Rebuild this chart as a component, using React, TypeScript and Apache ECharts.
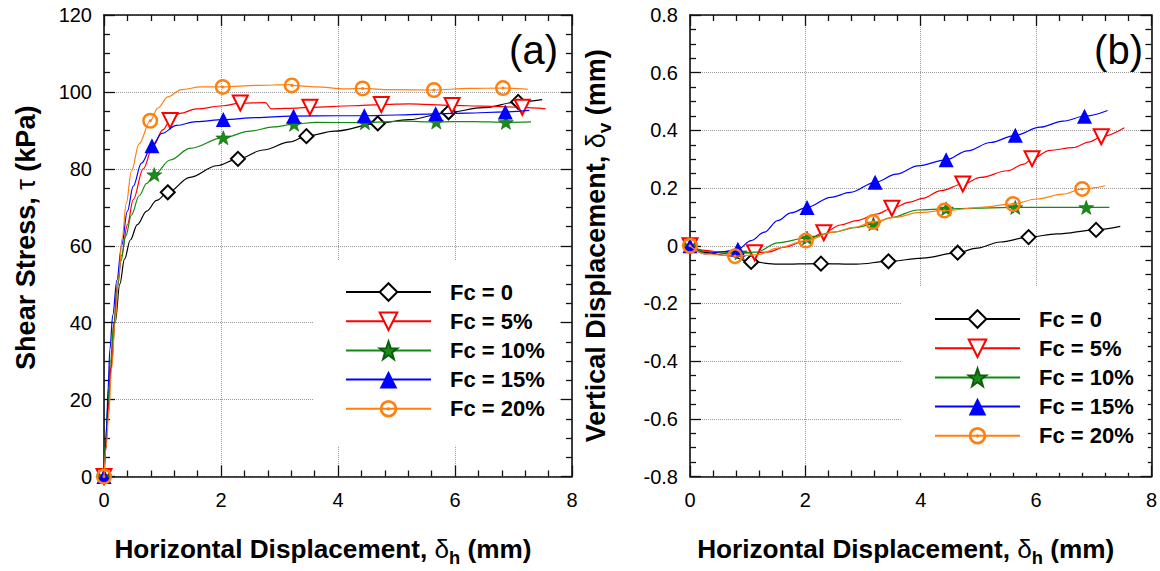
import React, { useEffect, useRef } from 'react';
import * as echarts from 'echarts';

type Pt = [number, number];

// ---------- labels ----------
const seriesNames = ['Fc = 0', 'Fc = 5%', 'Fc = 10%', 'Fc = 15%', 'Fc = 20%'];
const xAxisTitle = '{t|Horizontal Displacement, }{g|δ}{s|h}{t| (mm)}';
const yTitleA = '{t|Shear Stress, }{g|τ}{t| (kPa)}';
const yTitleB = '{t|Vertical Displacement, }{g|δ}{s|v}{t| (mm)}';
const panelA = '(a)';
const panelB = '(b)';

// ---------- axis ranges ----------
const xRange = { min: 0, max: 8, interval: 2 };
const yRangeA = { min: 0, max: 120, interval: 20 };
const yRangeB = { min: -0.8, max: 0.8, interval: 0.2 };

// ---------- (a) shear stress vs horizontal displacement ----------
const shearFc0: Pt[] = [[0.03, 8], [0.07, 18], [0.12, 28], [0.19, 40], [0.27, 50], [0.35, 56.5], [0.45, 61.5], [0.57, 65.5], [0.73, 69], [0.9, 71.8], [1.47, 77.8], [1.93, 80.8], [2.72, 84.9], [3.18, 87.0], [3.94, 89.8], [5.21, 92.8], [6.48, 95.9], [7.49, 98.0]];
const shearFc0Marks: Pt[] = [[0, 0], [1.09, 73.9], [2.29, 82.6], [3.46, 88.5], [4.68, 91.8], [5.89, 94.7], [7.08, 97.4]];

const shearFc5: Pt[] = [[0.03, 7], [0.07, 17], [0.12, 29], [0.17, 40], [0.23, 50], [0.3, 57.5], [0.4, 65.5], [0.5, 72], [0.67, 80], [0.84, 86], [1.01, 90.2], [1.3, 94.4], [1.58, 95.6], [2.04, 96.4], [2.76, 97.2], [2.86, 95.6], [3.3, 95.8], [4.25, 96.4], [5.21, 96.9], [6.48, 96.3], [7.55, 95.6]];
const shearFc5Marks: Pt[] = [[0, 0], [1.13, 92.6], [2.33, 97.1], [3.52, 96.0], [4.74, 96.7], [5.95, 96.5], [7.15, 96.0]];

const shearFc10: Pt[] = [[0.03, 9], [0.06, 18], [0.11, 30], [0.17, 40], [0.23, 49], [0.29, 56], [0.37, 62.5], [0.47, 68], [0.6, 73], [0.73, 76.2], [1.13, 82.3], [1.47, 85.3], [2.5, 89.8], [2.9, 90.9], [3.62, 92.1], [5.1, 92.4], [6.3, 92.3], [7.3, 92.2]];
const shearFc10Marks: Pt[] = [[0, 0], [0.86, 78.5], [2.04, 88.1], [3.25, 91.6], [4.46, 92.0], [5.68, 92.2], [6.87, 92.1]];

const shearFc15: Pt[] = [[0.02, 5], [0.045, 13], [0.07, 23], [0.1, 33], [0.15, 42], [0.22, 51], [0.3, 60], [0.4, 69], [0.5, 75.5], [0.64, 81.5], [0.99, 89.2], [1.24, 91.3], [1.58, 92.3], [2.61, 93.3], [3.18, 93.7], [4.0, 93.8], [5.0, 94.0], [6.2, 94.5], [7.27, 95.2]];
const shearFc15Marks: Pt[] = [[0, 0], [0.82, 86.0], [2.04, 92.8], [3.24, 93.7], [4.45, 93.8], [5.67, 94.3], [6.86, 94.8]];

const shearFc20: Pt[] = [[0.04, 8], [0.08, 16], [0.13, 28], [0.19, 40], [0.25, 52], [0.31, 62], [0.38, 71], [0.47, 79.5], [0.6, 86.5], [0.92, 95.8], [1.09, 98.7], [1.32, 100.6], [1.66, 101.3], [2.61, 101.7], [3.18, 101.9], [3.62, 101.3], [4.13, 100.8], [4.89, 100.6], [6.22, 100.9], [7.25, 100.7]];
const shearFc20Marks: Pt[] = [[0, 0], [0.79, 92.5], [2.03, 101.3], [3.21, 101.7], [4.42, 100.9], [5.64, 100.5], [6.82, 101.0]];

// ---------- (b) vertical vs horizontal displacement ----------
const vertFc0: Pt[] = [[0.26, -0.023], [0.66, -0.034], [1.52, -0.064], [2.89, -0.064], [4.03, -0.043], [4.98, -0.008], [5.38, 0.013], [6.36, 0.041], [7.46, 0.067]];
const vertFc0Marks: Pt[] = [[0, 0], [1.06, -0.056], [2.27, -0.062], [3.44, -0.054], [4.64, -0.024], [5.87, 0.03], [7.04, 0.055]];

const vertFc5: Pt[] = [[0.26, -0.016], [0.66, -0.028], [1.35, -0.022], [1.64, -0.005], [1.98, 0.015], [2.61, 0.072], [2.89, 0.087], [3.24, 0.110], [3.81, 0.151], [4.03, 0.164], [4.35, 0.191], [5.04, 0.237], [5.5, 0.26], [5.79, 0.283], [6.24, 0.331], [6.64, 0.34], [6.93, 0.36], [7.53, 0.409]];
const vertFc5Marks: Pt[] = [[0, 0], [1.12, -0.024], [2.32, 0.045], [3.5, 0.13], [4.73, 0.214], [5.93, 0.302], [7.13, 0.378]];

const vertFc10: Pt[] = [[0.26, -0.02], [1.15, -0.022], [1.52, 0.01], [2.49, 0.047], [2.89, 0.064], [3.47, 0.097], [3.95, 0.124], [7.27, 0.133]];
const vertFc10Marks: Pt[] = [[0, 0], [0.86, -0.024], [2.03, 0.027], [3.18, 0.076], [4.44, 0.128], [5.64, 0.133], [6.87, 0.133]];

const vertFc15: Pt[] = [[0.26, -0.028], [0.6, -0.02], [1.06, 0.018], [1.29, 0.047], [1.52, 0.087], [1.75, 0.114], [2.44, 0.168], [2.78, 0.185], [3.58, 0.248], [3.95, 0.277], [4.81, 0.329], [5.21, 0.358], [6.07, 0.411], [6.47, 0.432], [7.24, 0.469]];
const vertFc15Marks: Pt[] = [[0, 0], [0.83, -0.012], [2.03, 0.133], [3.21, 0.22], [4.44, 0.298], [5.64, 0.383], [6.84, 0.449]];

const vertFc20: Pt[] = [[0.26, -0.028], [1.18, -0.031], [1.52, -0.008], [2.49, 0.047], [2.84, 0.064], [3.58, 0.099], [3.95, 0.115], [5.04, 0.133], [6.01, 0.162], [6.47, 0.179], [7.2, 0.208]];
const vertFc20Marks: Pt[] = [[0, 0], [0.78, -0.036], [2.01, 0.018], [3.17, 0.082], [4.41, 0.122], [5.6, 0.145], [6.8, 0.197]];

const shearCurves = [shearFc0, shearFc5, shearFc10, shearFc15, shearFc20];
const shearMarks = [shearFc0Marks, shearFc5Marks, shearFc10Marks, shearFc15Marks, shearFc20Marks];
const vertCurves = [vertFc0, vertFc5, vertFc10, vertFc15, vertFc20];
const vertMarks = [vertFc0Marks, vertFc5Marks, vertFc10Marks, vertFc15Marks, vertFc20Marks];

// ---------- styles ----------
const FONT = "'Liberation Sans', Arial, Helvetica, sans-serif";
const STAR = 'path://M0,-10 L2.351,-3.236 L9.511,-3.09 L3.804,1.236 L5.878,8.09 L0,4 L-5.878,8.09 L-3.804,1.236 L-9.511,-3.09 L-2.351,-3.236 Z';
const RING = 'path://M10,0 A10,10 0 1,1 -10,0 A10,10 0 1,1 10,0 Z M6.9,0 A6.9,6.9 0 1,0 -6.9,0 A6.9,6.9 0 1,0 6.9,0 Z M1.9,0 A1.9,1.9 0 1,1 -1.9,0 A1.9,1.9 0 1,1 1.9,0 Z';

const markStyles: any[] = [
  { color: '#000000', symbol: 'emptyDiamond', size: 14, rotate: 0, item: { color: '#000000', borderWidth: 1.8 } },
  { color: '#ff0000', symbol: 'emptyTriangle', size: 15, rotate: 180, item: { color: '#ff0000', borderWidth: 1.8 } },
  { color: '#118a11', symbol: STAR, size: [15, 14], rotate: 0, item: { color: '#1a8c1a', borderColor: '#0b5e0b', borderWidth: 0.6 } },
  { color: '#0000ff', symbol: 'triangle', size: 15, rotate: 0, item: { color: '#0000ff' } },
  { color: '#ff7f10', symbol: RING, size: 16, rotate: 0, item: { color: '#ff7f10' } },
];

function buildData(curve: Pt[], marks: Pt[]) {
  const items: any[] = [
    ...curve.map((p) => ({ value: p, symbol: 'none' })),
    ...marks.map((p) => ({ value: p })),
  ];
  items.sort((a, b) => a.value[0] - b.value[0]);
  return items;
}

function makeSeries(curves: Pt[][], marks: Pt[][], axisIndex: number) {
  return curves.map((c, i) => {
    const s = markStyles[i];
    return {
      type: 'line',
      name: seriesNames[i],
      xAxisIndex: axisIndex,
      yAxisIndex: axisIndex,
      data: buildData(c, marks[i]),
      smooth: 0.35,
      smoothMonotone: 'x',
      showAllSymbol: true,
      symbol: s.symbol,
      symbolSize: s.size,
      symbolRotate: s.rotate,
      lineStyle: { color: s.color, width: 1.2 },
      itemStyle: s.item,
      emphasis: { disabled: true },
      z: 3 + i,
    };
  });
}

const axisLineStyle = { color: '#111', width: 1.6 };
const tickStyle = { color: '#111', width: 1.3 };
const gridLineStyle = { color: '#9a9a9a', width: 1, type: 'dotted' };

function makeRich(size: number) {
  return {
    t: { fontSize: size, fontWeight: 'bold', fontFamily: FONT, color: '#000', lineHeight: 32 },
    g: { fontSize: size, fontWeight: 'normal', fontFamily: FONT, color: '#000', lineHeight: 32 },
    s: { fontSize: size * 0.7, fontWeight: 'bold', fontFamily: FONT, color: '#000', lineHeight: 32, padding: [17, 0, 0, 0] },
  };
}

function xAxes(gridIndex: number) {
  const base = {
    gridIndex,
    type: 'value',
    ...xRange,
    axisLine: { show: true, onZero: false, lineStyle: axisLineStyle },
    axisTick: { show: true, inside: true, length: 11, lineStyle: tickStyle },
    minorTick: { show: true, splitNumber: 5, length: 6, lineStyle: tickStyle },
  };
  return [
    {
      ...base,
      position: 'bottom',
      axisLabel: { fontSize: 20, color: '#000', fontFamily: FONT, margin: 13 },
      splitLine: { show: true, lineStyle: gridLineStyle },
      name: xAxisTitle,
      nameLocation: 'middle',
      nameGap: 56,
      nameTextStyle: { padding: [0, 30, 0, 0], rich: makeRich(26.2) },
    },
    { ...base, position: 'top', axisLabel: { show: false }, splitLine: { show: false } },
  ];
}

function yAxes(gridIndex: number, range: any, title: string, gap: number, pad: number[], fmt?: (v: number) => string) {
  const base = {
    gridIndex,
    type: 'value',
    ...range,
    axisLine: { show: true, onZero: false, lineStyle: axisLineStyle },
    axisTick: { show: true, inside: true, length: 11, lineStyle: tickStyle },
    minorTick: { show: true, splitNumber: 4, length: 6, lineStyle: tickStyle },
  };
  return [
    {
      ...base,
      position: 'left',
      axisLabel: { fontSize: 20, color: '#000', fontFamily: FONT, margin: 12, formatter: fmt },
      splitLine: { show: true, lineStyle: gridLineStyle },
      name: title,
      nameLocation: 'middle',
      nameGap: gap,
      nameTextStyle: { padding: pad, rich: makeRich(27) },
    },
    { ...base, position: 'right', axisLabel: { show: false }, splitLine: { show: false } },
  ];
}

function legendAt(left: number, top: number) {
  return {
    orient: 'vertical',
    left,
    top,
    padding: [21, 14, 26, 32],
    itemWidth: 85,
    itemHeight: 22,
    itemGap: 7.2,
    backgroundColor: '#ffffff',
    selectedMode: false,
    data: seriesNames,
    textStyle: { fontSize: 22, fontWeight: 'bold', fontFamily: FONT, color: '#000', lineHeight: 22, padding: [0, 0, 0, 14] },
  };
}

const fmtB = (v: number) => {
  const r = Math.round(v * 10) / 10;
  return r === 0 ? '0' : String(r);
};

export default function App() {
  const ref = useRef<HTMLDivElement>(null);
  useEffect(() => {
    if (!ref.current) return;
    const chart = echarts.init(ref.current, undefined, { renderer: 'svg' });
    const option: any = {
      animation: false,
      backgroundColor: '#ffffff',
      grid: [
        { left: 104, top: 15, width: 468, height: 464 },
        { left: 690, top: 15, width: 466, height: 464 },
      ],
      xAxis: [...xAxes(0), ...xAxes(1)],
      yAxis: [
        ...yAxes(0, yRangeA, yTitleA, 62, [0, 0, 0, 16]),
        ...yAxes(1, yRangeB, yTitleB, 78, [0, 0, 0, 0], fmtB),
      ],
      legend: [legendAt(313, 260), legendAt(902, 287)],
      graphic: [
        { type: 'text', x: 558, y: 50, style: { text: panelA, font: `40px ${FONT}`, fill: '#000', align: 'right', verticalAlign: 'middle' } },
        { type: 'text', x: 1143, y: 50, style: { text: panelB, font: `40px ${FONT}`, fill: '#000', align: 'right', verticalAlign: 'middle' } },
      ],
      series: [
        ...makeSeries(shearCurves, shearMarks, 0),
        ...makeSeries(vertCurves, vertMarks, 2),
      ],
    };
    chart.setOption(option);
    return () => chart.dispose();
  }, []);
  return (
    <div
      ref={ref}
      style={{ position: 'fixed', left: 0, top: 0, width: 1160, height: 571, background: '#fff' }}
    />
  );
}
